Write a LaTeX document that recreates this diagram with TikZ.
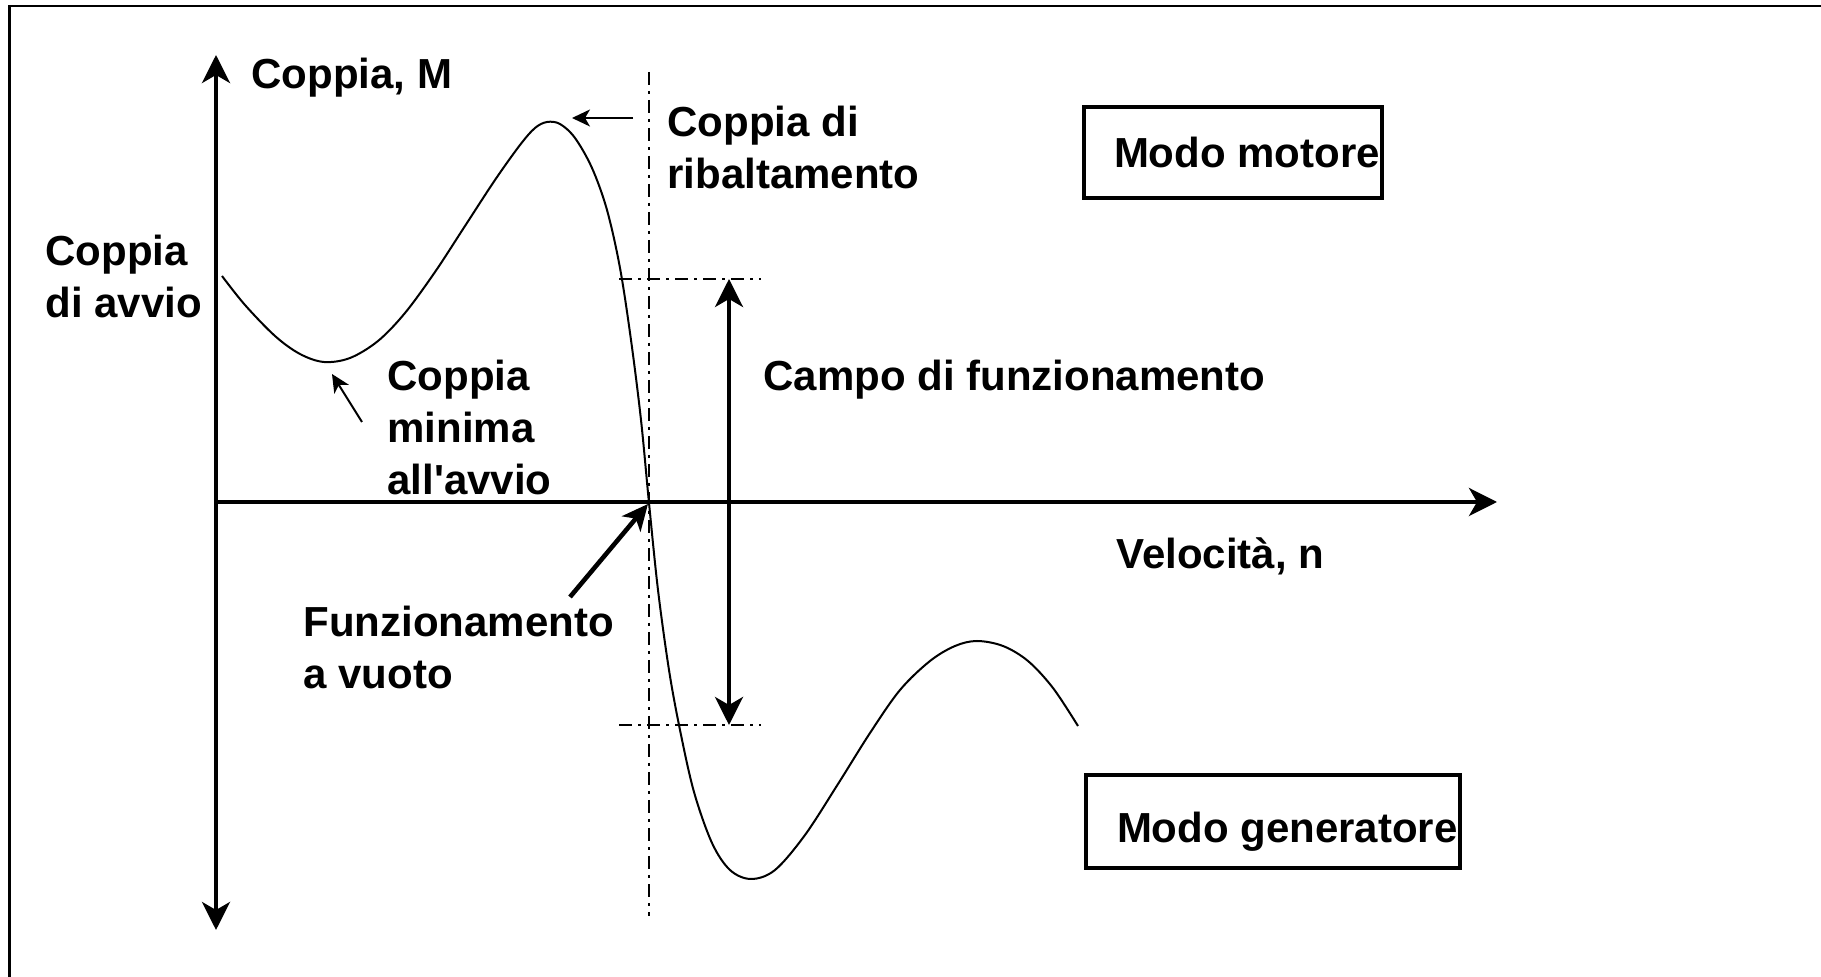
\documentclass[tikz,border=0pt]{standalone}
\usepackage{fontspec}
\setmainfont{Liberation Sans}[Ligatures=TeXOff]
\usetikzlibrary{arrows.meta}
\begin{document}
\begin{tikzpicture}[x=0.5pt,y=-0.5pt,
  lbl/.style={font=\bfseries\fontsize{21}{26}\selectfont, inner sep=0pt, anchor=base west, align=left},
  modebox/.style={draw, line width=2pt, font=\bfseries\fontsize{21}{26}\selectfont, inner xsep=1pt,
     text height=15.5pt, text depth=0pt, anchor=north west},
  bigtip/.style={line width=2pt, -{Stealth[length=14pt,width=14pt,inset=4pt]}},
  dbltip/.style={line width=2pt, {Stealth[length=14pt,width=14pt,inset=4pt]}-{Stealth[length=14pt,width=14pt,inset=4pt]}},
  pointer/.style={line width=1pt, -{Stealth[length=9pt,width=8.5pt,inset=2.5pt]}},
  thickpointer/.style={line width=2.3pt, -{Stealth[length=13pt,width=12pt,inset=3.5pt]}},
  dashdot/.style={line width=1.4pt, dash pattern=on 6.5pt off 3pt on 1.5pt off 3pt},
  curve/.style={line width=1pt, line join=round}]
\useasboundingbox (0,0) rectangle (1821,977);
% frame (only top and left edges visible)
\draw[line width=1.4pt] (9.5,990) -- (9.5,6) -- (1830,6);

% coordinates
\coordinate (O) at (216,502);
\coordinate (ytop) at (216,55);
\coordinate (ybot) at (216,930);
\coordinate (xend) at (1497,502);
\coordinate (vtop) at (649,72);
\coordinate (vbot) at (649,916);
\coordinate (h1l) at (619,279);
\coordinate (h1r) at (761,279);
\coordinate (h2l) at (619,725);
\coordinate (h2r) at (761,725);
\coordinate (rtop) at (729,279);
\coordinate (rbot) at (729,725);
\coordinate (peak) at (572,118);
\coordinate (peaktail) at (633,118);
\coordinate (minpt) at (332,374);
\coordinate (mintail) at (362,422);
\coordinate (zero) at (648,504);
\coordinate (zerotail) at (570,597);

% axes
\draw[dbltip] (ybot) -- (ytop);
\draw[bigtip] (O) -- (xend);

% dash-dot guides
\draw[dashdot] (vtop) -- (vbot);
\draw[dashdot] (h1l) -- (h1r);
\draw[dashdot] (h2l) -- (h2r);

% operating range
\draw[dbltip] (rtop) -- (rbot);

% torque curve
\draw[curve] plot[smooth, tension=0.55] coordinates {
 (222,276) (245,305) (275,336) (300,354) (324,362) (350,358) (378,341)
 (405,313) (435,272) (465,226) (495,180) (520,145) (535,128) (547,122)
 (560,124) (575,138) (592,168) (607,210) (620,268) (631,340) (641,420)
 (649,503) (658,590) (669,670) (680,730) (694,792) (712,843) (730,870)
 (751,879) (775,870) (805,835) (838,784) (870,733) (900,690) (930,661)
 (955,646) (977,641) (1003,646) (1028,661) (1053,688) (1078,726)};

% pointers
\draw[pointer] (peaktail) -- (peak);
\draw[pointer] (mintail) -- (minpt);
\draw[thickpointer] (zerotail) -- (zero);

% labels (multi-line nodes: base = baseline of last line)
\node[lbl] (ylab) at (251,89) {Coppia, M};
\node[lbl] (ribal) at (667,189) {Coppia di\\ribaltamento};
\node[lbl] (avvio) at (45,318) {Coppia\\di avvio};
\node[lbl] (minima) at (387,495) {Coppia\\minima\\all'avvio};
\node[lbl] (campo) at (763,391) {Campo di funzionamento};
\node[lbl] (vel) at (1116,569) {Velocità, n};
\node[lbl] (vuoto) at (303,689) {Funzionamento\\a vuoto};

% mode boxes
\node[modebox, minimum height=45.5pt] (motore) at (1082,105) {\hspace*{14pt}Modo motore};
\node[modebox, minimum height=46.5pt, text height=21.5pt] (gen) at (1084,773) {\hspace*{14.5pt}Modo generatore};
\end{tikzpicture}
\end{document}
